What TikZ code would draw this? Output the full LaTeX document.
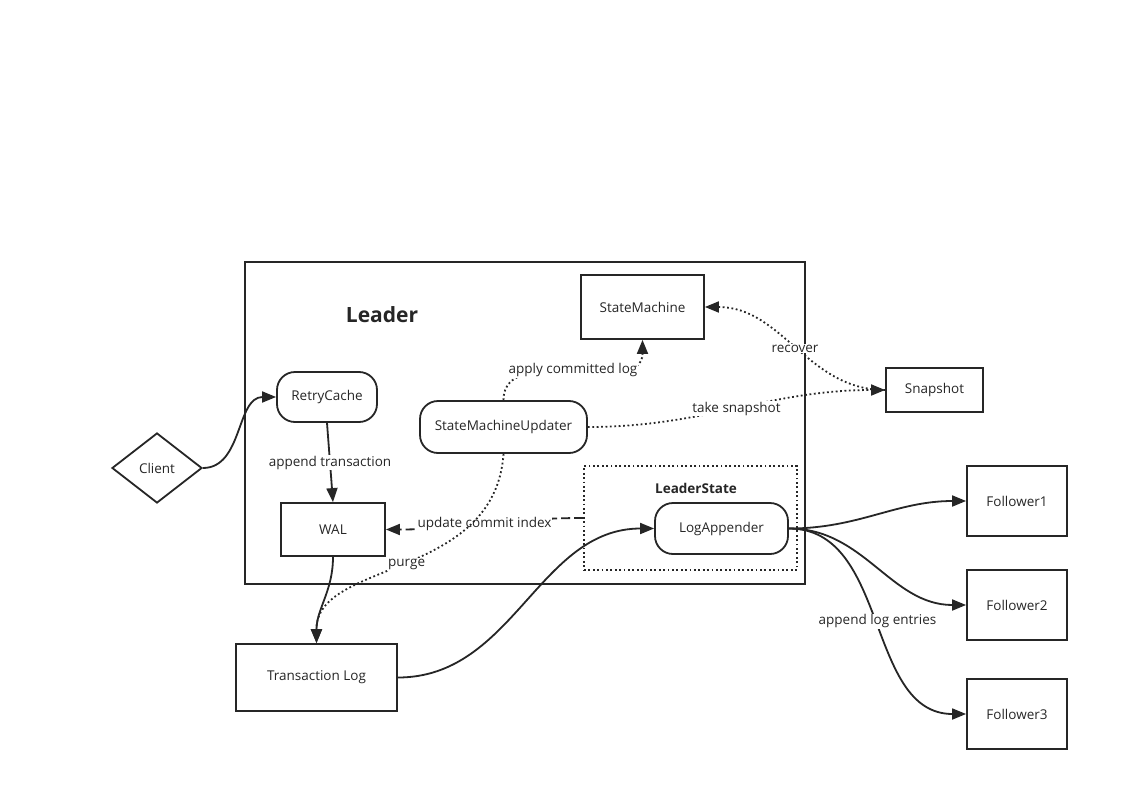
\documentclass[tikz,border=0pt]{standalone}
\usepackage{fontspec}
\setmainfont{Open Sans}
\usetikzlibrary{arrows.meta,shapes.geometric}
\begin{document}
\begin{tikzpicture}[x=1pt,y=-1pt,
  every node/.style={font=\fontsize{13.5}{15}\selectfont, text=black!85},
  box/.style={draw=black!85, line width=1.8pt, inner sep=0pt, minimum width=#1},
  rbox/.style={draw=black!85, line width=1.8pt, inner sep=0pt, rounded corners=18pt},
  conn/.style={draw=black!85, line width=1.8pt, -{Triangle[length=14pt,width=11pt]}},
  dots/.style={dash pattern=on 1.8pt off 2.6pt},
  dashline/.style={dash pattern=on 9pt off 4pt},
  lbl/.style={fill=white, inner sep=1pt}
]
\useasboundingbox (0,0) rectangle (1128,811);
\fill[white] (0,0) rectangle (1128,811);
% Leader container
\node[box=560pt, minimum height=322pt] (leader) at (525,423) {};
\node[font=\fontsize{21}{24}\selectfont\bfseries] (leadertitle) at (382,315) {Leader};
% LeaderState
\node[draw=black!85, line width=1.8pt, dots, inner sep=0pt, minimum width=213pt, minimum height=104pt] (ls) at (690.5,518) {};
\node[font=\fontsize{13.5}{15}\selectfont\bfseries] (lstitle) at (696,488) {LeaderState};
% nodes
\node[box=123pt, minimum height=64pt] (sm) at (642.5,307) {StateMachine};
\node[rbox, minimum width=100pt, minimum height=50pt] (rc) at (327,397) {RetryCache};
\node[rbox, minimum width=167pt, minimum height=52pt] (smu) at (503.5,427) {StateMachineUpdater};
\node[rbox, minimum width=133pt, minimum height=51pt] (la) at (721.5,528.5) {LogAppender};
\node[box=104pt, minimum height=53pt] (wal) at (333,529.5) {WAL};
\node[draw=black!85, line width=1.8pt, diamond, aspect=1.29, inner sep=0pt, minimum width=90pt, minimum height=70pt] (client) at (157,468) {Client};
\node[box=97pt, minimum height=44pt] (snap) at (934.5,390) {Snapshot};
\node[box=161pt, minimum height=67pt] (txlog) at (316.5,677.5) {Transaction Log};
\node[box=100pt, minimum height=70pt] (f1) at (1017,501) {Follower1};
\node[box=100pt, minimum height=70pt] (f2) at (1017,605) {Follower2};
\node[box=100pt, minimum height=70pt] (f3) at (1017,714) {Follower3};
% connectors
\draw[conn] (client.east) to[out=0,in=180] (rc.west);
\draw[conn] (rc.south) to node[lbl]{append transaction} (wal.north);
\draw[conn, dots] (smu.north) to[out=90,in=-90] node[lbl]{apply committed log} (sm.south);
\draw[conn, dots] (smu.east) to[out=0,in=180] node[lbl, pos=0.5]{take snapshot} (snap.west);
\draw[conn, dots] (snap.west) to[out=180,in=0] node[lbl]{recover} (sm.east);
\draw[conn, dashline] (ls.west) to[out=180,in=0] node[lbl]{update commit index} (wal.east);
\draw[conn, dots] (smu.south) .. controls (495,580) and (316,560) .. node[lbl]{purge} (txlog.north);
\draw[conn] (wal.south) to[out=-90,in=90] (txlog.north);
\draw[conn] (txlog.east) to[out=0,in=180] (la.west);
\draw[conn] (la.east) to[out=0,in=180] (f1.west);
\draw[conn] (la.east) to[out=0,in=180] (f2.west);
\draw[conn] (la.east) to[out=0,in=180] node[lbl]{append log entries} (f3.west);
\end{tikzpicture}
\end{document}
